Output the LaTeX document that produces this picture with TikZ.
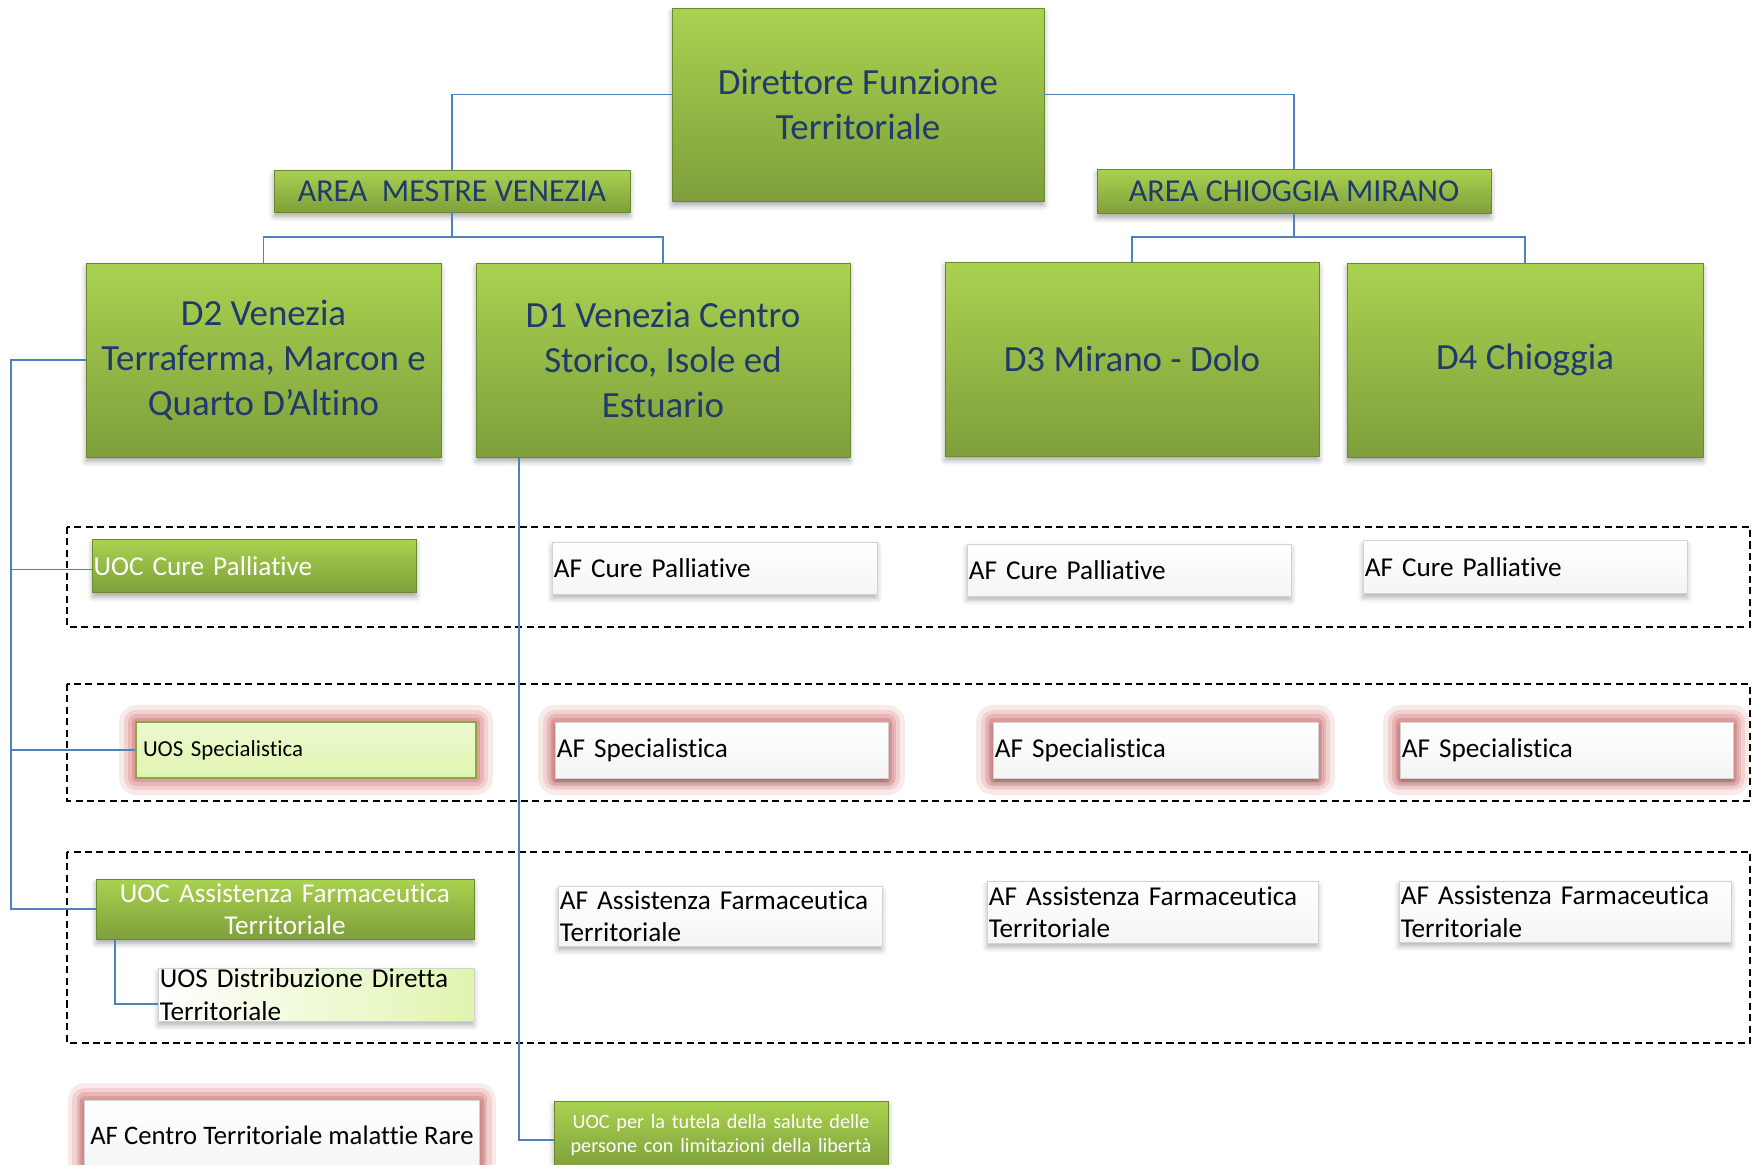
\documentclass[tikz,border=0pt]{standalone}
\usepackage{fontspec}
\setmainfont{Carlito}[Ligatures=NoCommon]
\usetikzlibrary{shadows.blur}
\definecolor{grtop}{HTML}{AAD250}
\definecolor{grbot}{HTML}{7E9F3B}
\definecolor{grline}{HTML}{6B8A30}
\definecolor{navy}{HTML}{1F3A6B}
\definecolor{linkblue}{HTML}{4F81BD}
\definecolor{palegreen}{HTML}{E0F5B0}
\definecolor{glowred}{HTML}{D06060}
\tikzset{x=0.02cm, y=-0.02cm,
greenbox/.style={ % Green bevelled boxes
draw=grline, line width=0.5pt,
top color=grtop, bottom color=grbot,
inner sep=0pt, align=center,
blur shadow={shadow xshift=0pt, shadow yshift=-2.5pt, shadow blur radius=3pt, shadow opacity=35}},
bigtext/.style={text=navy, font=\fontsize{21}{25.6}\selectfont},
areatext/.style={text=navy, font=\fontsize{18.2}{21}\selectfont},
uoctext/.style={text=white, font=\fontsize{15.5}{18.5}\selectfont},
afbox/.style={ % White boxes of the AF units
draw=gray!35, line width=0.5pt,
top color=white, bottom color=gray!8,
inner xsep=1pt, inner ysep=0pt, align=left,
font=\fontsize{15.5}{18.5}\selectfont,
blur shadow={shadow xshift=0pt, shadow yshift=-2.5pt, shadow blur radius=3pt, shadow opacity=30}},
specbox/.style={ % Pale green UOS boxes
draw=grtop!80!black, line width=1pt,
top color=palegreen!60!white, bottom color=palegreen,
inner xsep=4pt, inner ysep=0pt, align=left,
font=\fontsize{13}{16}\selectfont},
glow/.style={ % Red halo round the boxes
preaction={draw=glowred, draw opacity=0.13, line width=19pt, line join=round},
preaction={draw=glowred, draw opacity=0.18, line width=14pt, line join=round},
preaction={draw=glowred, draw opacity=0.24, line width=9pt, line join=round},
preaction={draw=glowred, draw opacity=0.32, line width=5pt, line join=round}},
link/.style={draw=linkblue, line width=1.1pt},
group/.style={draw, line width=1.2pt, dash pattern=on 4pt off 2.5pt}
}
\begin{document}
\begin{tikzpicture}
\clip (0,0) rectangle (1754,1164);
% top of the chart
\node[greenbox, bigtext, minimum width=7.44cm, minimum height=3.86cm] (dir) at (858,104.5) {Direttore Funzione\\Territoriale};
\node[greenbox, areatext, minimum width=7.12cm, minimum height=0.84cm] (amv) at (452,191) {AREA\ \ MESTRE VENEZIA};
\node[greenbox, areatext, minimum width=7.88cm, minimum height=0.88cm] (acm) at (1294,191.5) {AREA CHIOGGIA MIRANO};
\node[greenbox, bigtext, minimum width=7.1cm, minimum height=3.88cm] (d2) at (263.5,360) {D2 Venezia\\Terraferma, Marcon e\\Quarto D’Altino};
\node[greenbox, bigtext, minimum width=7.48cm, minimum height=3.88cm] (d1) at (663,360) {D1 Venezia Centro\\Storico, Isole ed\\Estuario};
\node[greenbox, bigtext, minimum width=7.48cm, minimum height=3.88cm] (d3) at (1132,359) {D3 Mirano - Dolo};
\node[greenbox, bigtext, minimum width=7.12cm, minimum height=3.88cm] (d4) at (1525,360) {D4 Chioggia};

% dashed groups
\draw[group] (67,527) rectangle (1750,627);
\draw[group] (67,684) rectangle (1750,801);
\draw[group] (67,852) rectangle (1750,1043);

% cure palliative
\node[greenbox, uoctext, align=left, inner xsep=0.5pt, text width=6.44cm, minimum height=1.06cm] (ucp) at (254.5,566) {UOC Cure Palliative};
\node[afbox, text width=6.43cm, minimum height=1.04cm] (cp1) at (714.5,568) {AF Cure Palliative};
\node[afbox, text width=6.41cm, minimum height=1.04cm] (cp3) at (1129,570) {AF Cure Palliative};
\node[afbox, text width=6.41cm, minimum height=1.06cm] (cp4) at (1525,567) {AF Cure Palliative};

% specialistica
\node[glow, specbox, text width=6.52cm, minimum height=1.12cm] (usp) at (306,750) {UOS Specialistica};
\node[glow, afbox, text width=6.59cm, minimum height=1.12cm] (sp1) at (721.5,750) {AF Specialistica};
\node[glow, afbox, text width=6.43cm, minimum height=1.12cm] (sp3) at (1155.5,750) {AF Specialistica};
\node[glow, afbox, text width=6.59cm, minimum height=1.12cm] (sp4) at (1566.5,750) {AF Specialistica};

% assistenza farmaceutica
\node[greenbox, uoctext, text width=7.56cm, minimum height=1.2cm] (uaf) at (285,909) {UOC Assistenza Farmaceutica\\Territoriale};
\node[afbox, left color=white, right color=palegreen, text width=6.25cm, minimum height=1.06cm] (udd) at (316,994.5) {UOS Distribuzione Diretta\\Territoriale};
\node[afbox, text width=6.41cm, minimum height=1.2cm] (af1) at (720,916) {AF Assistenza Farmaceutica\\Territoriale};
\node[afbox, text width=6.55cm, minimum height=1.24cm] (af3) at (1152.5,912) {AF Assistenza Farmaceutica\\Territoriale};
\node[afbox, text width=6.57cm, minimum height=1.22cm] (af4) at (1565,911.5) {AF Assistenza Farmaceutica\\Territoriale};

% bottom row
\node[glow, afbox, font=\fontsize{15.2}{18}\selectfont, minimum width=7.9cm, minimum height=1.4cm] (rare) at (282,1135) {AF Centro Territoriale malattie Rare};
\node[greenbox, text=white, font=\fontsize{11.5}{13.6}\selectfont, text width=6.68cm, minimum height=1.36cm] (tut) at (721,1135) {UOC per la tutela della salute delle\\persone con limitazioni della libertà};

% connectors
\coordinate (trunk) at (11,360);
\coordinate (d1drop) at (519,457);
\coordinate (afdrop) at (115,939);
\draw[link] ([yshift=5.7pt]dir.west) -| (amv.north);
\draw[link] ([yshift=5.7pt]dir.east) -| (acm.north);
\draw[link] (amv.south) -- ++(0,25) -| (d2.north);
\draw[link] (amv.south) -- ++(0,25) -| (d1.north);
\draw[link] (acm.south) -- ++(0,23) -| (d3.north);
\draw[link] (acm.south) -- ++(0,23) -| (d4.north);
\draw[link] (d2.west) -- (trunk) |- ([yshift=-2pt]ucp.west);
\draw[link] (trunk) |- (usp.west);
\draw[link] (trunk) |- (uaf.west);
\draw[link] (afdrop) |- ([yshift=-5.5pt]udd.west);
\draw[link] (d1drop) |- ([yshift=-2.8pt]tut.west);
\end{tikzpicture}
\end{document}
